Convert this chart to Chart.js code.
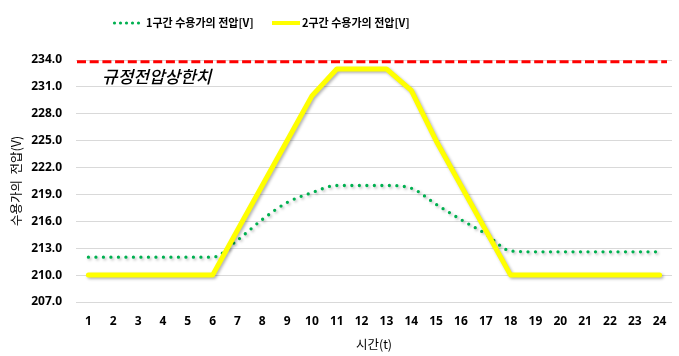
<!DOCTYPE html>
<html><head><meta charset="utf-8">
<script src="https://cdn.jsdelivr.net/npm/chart.js@4"></script>
<style>html,body{margin:0;padding:0;background:#fff}#wrap{width:679px;height:356px}</style>
</head><body><div id="wrap"><canvas id="c" width="679" height="356"></canvas></div>
<script>
const hours = ['1','2','3','4','5','6','7','8','9','10','11','12','13','14','15','16','17','18','19','20','21','22','23','24'];
const zone1Voltage = [212,212,212,212,212,212,213.9,216.2,218.1,219.2,220,220,220,219.7,217.9,216.2,214.6,212.7,212.6,212.6,212.6,212.6,212.6,212.6];
const zone2Voltage = [210,210,210,210,210,210,215,220,225,230,233,233,233,230.6,225,220,215,210,210,210,210,210,210,210];
const upperLimit = 233.8;
const seriesLabels = ['1구간 수용가의 전압[V]','2구간 수용가의 전압[V]'];
const limitLabel = '규정전압상한치';
const yMin = 207, yMax = 234, yStep = 3;
const xTitle = '시간(t)';
const yTitle = '수용가의  전압(V)';

const KR = "'Noto Sans CJK KR','Noto Sans',sans-serif";

const shadowPlugin = {
  id:'shadowPlugin',
  beforeDatasetDraw(chart,args){
    const c=chart.ctx; c.save();
    c.shadowColor='rgba(0,0,0,0.3)'; c.shadowBlur=3; c.shadowOffsetX=1.5; c.shadowOffsetY=1.5;
  },
  afterDatasetDraw(chart){ chart.ctx.restore(); }
};

const labelPlugin = {
  id:'labelPlugin',
  afterDatasetsDraw(chart){
    const c=chart.ctx, a=chart.chartArea, y=chart.scales.y;
    c.save();
    const py = y.getPixelForValue(upperLimit);
    c.strokeStyle='#FF0000'; c.lineWidth=3; c.setLineDash([9,3.7]);
    c.beginPath(); c.moveTo(a.left+1,py); c.lineTo(a.right-5,py); c.stroke();
    c.setLineDash([]);
    c.font = "italic 500 17px "+KR;
    c.fillStyle='#000'; c.textBaseline='middle'; c.textAlign='left';
    c.fillText(limitLabel, a.left+26, 77);
    c.restore();
  },
  afterDraw(chart){
    const c=chart.ctx;
    c.save();
    c.fillStyle='#00B050';
    for(let i=0;i<5;i++){ c.beginPath(); c.arc(114.5+i*6,23,1.6,0,Math.PI*2); c.fill(); }
    c.font = "bold 11px "+KR; c.fillStyle='#000'; c.textBaseline='middle'; c.textAlign='left';
    c.fillText(seriesLabels[0],146,23);
    c.strokeStyle='#FFFF00'; c.lineWidth=4; c.beginPath(); c.moveTo(272,23); c.lineTo(300,23); c.stroke();
    c.fillText(seriesLabels[1],302,23);
    c.restore();
  }
};

new Chart(document.getElementById('c'),{
  type:'line',
  data:{
    labels:hours,
    datasets:[
      {label:seriesLabels[1], data:zone2Voltage, borderColor:'#FFFF00', borderWidth:5, pointRadius:0, tension:0, fill:false, borderJoinStyle:'round', borderCapStyle:'round'},
      {label:seriesLabels[0], data:zone1Voltage, borderColor:'#00B050', borderWidth:3.3, borderDash:[0,7.5], borderCapStyle:'round', pointRadius:0, cubicInterpolationMode:'monotone', fill:false}
    ]
  },
  options:{
    responsive:false, animation:false, devicePixelRatio:1,
    layout:{padding:{top:60,right:7,left:0,bottom:0}},
    plugins:{legend:{display:false}, tooltip:{enabled:false}},
    scales:{
      x:{
        offset:true,
        grid:{display:false, drawTicks:false},
        border:{display:false},
        ticks:{color:'#000', font:{family:"'Noto Sans',sans-serif", size:12, weight:'bold'}, padding:12, maxRotation:0, autoSkip:false},
        title:{display:true, text:xTitle, color:'#000', font:{family:KR, size:12.5}, padding:{top:0,bottom:4}},
        afterFit(s){ s.height = 54; }
      },
      y:{
        min:yMin, max:yMax,
        grid:{color:'#D9D9D9', lineWidth:1, drawTicks:false},
        border:{display:false},
        ticks:{stepSize:yStep, color:'#000', font:{family:"'Noto Sans',sans-serif", size:12, weight:'bold'}, padding:14, callback:v=>Number(v).toFixed(1)},
        title:{display:true, text:yTitle, color:'#000', font:{family:KR, size:12.5}, padding:{top:9,bottom:0}},
        afterFit(s){ s.width = 76; }
      }
    }
  },
  plugins:[shadowPlugin,labelPlugin]
});
</script>
</body></html>
